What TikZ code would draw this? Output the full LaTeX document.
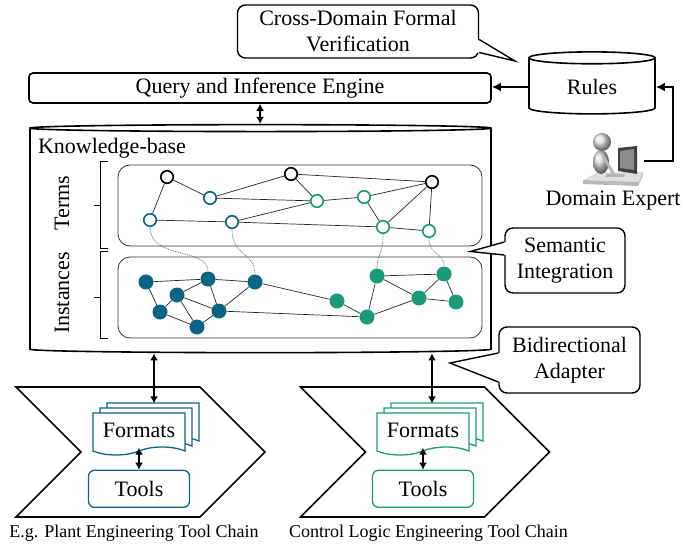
\documentclass[tikz,border=0pt]{standalone}
\usepackage{fontspec}
\setmainfont{Liberation Serif}
\usetikzlibrary{arrows.meta,positioning,shapes.geometric,shapes.symbols,shadows,calc}

\definecolor{plantblue}{HTML}{0B6482}
\definecolor{ctrlgreen}{HTML}{1A9B77}

\tikzset{
  engine/.style={draw, line width=1.6pt, rounded corners=4pt, inner sep=2pt, align=center},
  bubble/.style={draw, line width=1.4pt, rounded corners=8pt, inner sep=2pt, align=center, fill=white},
  store/.style={draw, line width=1.6pt, cylinder, shape border rotate=90, inner sep=2pt, align=center},
  kblayer/.style={draw=black!80, line width=0.8pt, rounded corners=12pt, minimum width=364pt, minimum height=81pt},
  toolchain/.style={draw, line width=1.6pt, signal, signal from=west, signal to=east, minimum width=249pt, minimum height=130pt},
  fmt/.style={tape, tape bend top=none, tape bend height=8pt, draw=#1, fill=white, line width=1.3pt, minimum width=92pt, minimum height=42pt, inner sep=2pt,
    double copy shadow={shadow xshift=7pt, shadow yshift=5pt, draw=#1, fill=white, line width=1.3pt}},
  tool/.style={draw=#1, line width=1.3pt, rounded corners=6pt, minimum width=101pt, minimum height=37pt, inner sep=2pt},
  term/.style={circle, draw=#1, fill=white, line width=1.6pt, minimum size=12.5pt, inner sep=0pt},
  inst/.style={circle, fill=#1, minimum size=15pt, inner sep=0pt},
  relation/.style={line width=0.7pt, black!85},
  instof/.style={line width=0.8pt, black!60, densely dotted},
  arrow/.style={-{Latex[length=9pt,width=9pt]}, line width=2.2pt},
  biarrow/.style={{Latex[length=7pt,width=8pt]}-{Latex[length=7pt,width=8pt]}, line width=2pt},
  bracket/.style={line width=1.4pt},
  chainlabel/.style={font=\fontsize{18}{21}\selectfont}
}

\begin{document}
\begin{tikzpicture}[x=1pt, y=-1pt, font=\fontsize{22}{26}\selectfont]
  \useasboundingbox (0,0) rectangle (684,545);

  % engine, rules and the expert feeding them
  \node[engine, minimum width=462pt, minimum height=30pt] (query) at (260,88) {Query and Inference Engine};
  \node[store, minimum width=126pt, minimum height=62pt, aspect=0.22] (rules) at (592,87) {Rules};
  \node[minimum width=62pt, minimum height=52pt] (expertpic) at (613,161) {};
  \node[below=0pt of expertpic] (expert) {Domain Expert};
  \begin{scope}[shift={(expertpic.center)}]
    % desk, keyboard, monitor
    \fill[gray!25] (-30,19) -- (-15,11) -- (30,11) -- (25,21) -- cycle;
    \fill[gray!55] (-30,19) -- (25,21) -- (25,25) -- (-30,23) -- cycle;
    \fill[gray!40] (25,21) -- (30,11) -- (30,15) -- (25,25) -- cycle;
    \fill[gray!60] (-6,13) -- (12,13) -- (11,16) -- (-8,16) -- cycle;
    \fill[black!75] (5,-13) -- (24,-15) -- (24,13) -- (5,10) -- cycle;
    \fill[black!45] (7,-10) -- (21,-12) -- (21,9) -- (7,7) -- cycle;
    % person
    \shade[ball color=gray!30] (-12,1) ellipse (8pt and 12pt);
    \shade[ball color=gray!20] (-11,-19) circle (9pt);
    \draw[gray!55, line width=3pt, line cap=round] (-9,-3) -- (0,12);
  \end{scope}

  % knowledge base
  \node[store, text width=457pt, minimum height=228pt, aspect=0.015] (kb) at (260.5,241) {};
  \node (kbtitle) at (112,148) {Knowledge-base};
  \node[kblayer] (termsbox) at (300,205.5) {};
  \node[kblayer] (instbox) at (300,297.5) {};
  \node[rotate=90] (lblterms) at (62,203) {Terms};
  \node[rotate=90] (lblinst) at (62,293) {Instances};
  \draw[bracket] ([shift={(-10pt,3pt)}]termsbox.north west) -- ++(-7,0) |- ([shift={(-10pt,-2pt)}]termsbox.south west);
  \draw[bracket] ([xshift=-17pt]termsbox.west) -- ++(-7,0);
  \draw[bracket] ([shift={(-10pt,5pt)}]instbox.north west) -- ++(-7,0) |- ([shift={(-10pt,0pt)}]instbox.south west);
  \draw[bracket] ([xshift=-17pt]instbox.west) -- ++(-7,0);

  % terms
  \node[term=black] (c1) at (167,177) {};
  \node[term=black] (c2) at (291,174) {};
  \node[term=black] (c3) at (432,182) {};
  \node[term=plantblue] (pa1) at (210,198) {};
  \node[term=plantblue] (pa2) at (150,220) {};
  \node[term=plantblue] (pa3) at (232,222) {};
  \node[term=ctrlgreen] (cl1) at (317,201) {};
  \node[term=ctrlgreen] (cl2) at (364,197) {};
  \node[term=ctrlgreen] (cl3) at (383,227) {};
  \node[term=ctrlgreen] (cl4) at (429,231) {};
  \draw[relation] (c1) -- (pa2) (c1) -- (pa1) (pa1) -- (c2) (pa1) -- (cl1) (c2) -- (cl1) (c2) -- (c3)
    (cl1) -- (cl2) (cl2) -- (c3) (cl2) -- (cl3) (c3) -- (cl3) (c3) -- (cl4) (cl3) -- (cl4)
    (pa2) -- (pa3) (pa3) -- (cl1) (pa3) -- (cl3);

  % instances
  \node[inst=plantblue] (ip1) at (146,282) {};
  \node[inst=plantblue] (ip2) at (208,279) {};
  \node[inst=plantblue] (ip3) at (255,282) {};
  \node[inst=plantblue] (ip4) at (177,295) {};
  \node[inst=plantblue] (ip5) at (160,312) {};
  \node[inst=plantblue] (ip6) at (219,311) {};
  \node[inst=plantblue] (ip7) at (197,327) {};
  \node[inst=ctrlgreen] (ic1) at (337,301) {};
  \node[inst=ctrlgreen] (ic2) at (367,317) {};
  \node[inst=ctrlgreen] (ic3) at (377,276) {};
  \node[inst=ctrlgreen] (ic4) at (444,274) {};
  \node[inst=ctrlgreen] (ic5) at (419,298) {};
  \node[inst=ctrlgreen] (ic6) at (456,302) {};
  \draw[relation] (ip1) -- (ip2) (ip2) -- (ip3) (ip1) -- (ip5) (ip5) -- (ip4) (ip4) -- (ip2) (ip4) -- (ip6)
    (ip4) -- (ip7) (ip2) -- (ip6) (ip5) -- (ip7) (ip7) -- (ip6) (ip6) -- (ip3) (ip3) -- (ic1) (ip6) -- (ic2)
    (ic1) -- (ic2) (ic2) -- (ic3) (ic2) -- (ic5) (ic3) -- (ic4) (ic3) -- (ic5) (ic5) -- (ic4) (ic5) -- (ic6) (ic4) -- (ic6);

  % term -> instance
  \draw[instof] (pa2) .. controls +(0,40) and +(0,-32) .. (ip2);
  \draw[instof] (pa3) .. controls +(0,35) and +(0,-30) .. (ip3);
  \draw[instof] (cl3) .. controls +(0,28) and +(0,-22) .. (ic3);
  \draw[instof] (cl4) .. controls +(0,25) and +(0,-22) .. (ic4);

  % tool chains
  \node[toolchain] (chainA) at (140.5,452) {};
  \node[toolchain] (chainB) at (425,452) {};
  \node[fmt=plantblue] (fmtA) at (139,430) {Formats};
  \node[fmt=ctrlgreen] (fmtB) at (423,430) {Formats};
  \node[tool=plantblue, below=22pt of fmtA] (toolA) {Tools};
  \node[tool=ctrlgreen, below=22pt of fmtB] (toolB) {Tools};
  \node[chainlabel] (labelA) at (134,533) {E.g. Plant Engineering Tool Chain};
  \node[chainlabel] (labelB) at (428.5,533) {Control Logic Engineering Tool Chain};

  % arrows
  \draw[arrow] (rules.west) -- (rules.west -| query.east);
  \draw[arrow] (expertpic.east) -- ++(29,0) |- (rules.east);
  \draw[biarrow] (query) -- (kb);
  \coordinate (fmtAtop) at ([xshift=15pt,yshift=9pt]fmtA.north);
  \coordinate (fmtBtop) at ([xshift=9pt,yshift=9pt]fmtB.north);
  \draw[biarrow] (fmtAtop) -- (fmtAtop |- kb.south);
  \draw[biarrow] (fmtBtop) -- (fmtBtop |- kb.south);
  \draw[biarrow] (fmtA.south) -- (toolA.north);
  \draw[biarrow] (fmtB.south) -- (toolB.north);

  % callouts
  \node[bubble, minimum width=241pt, minimum height=53pt] (verif) at (358,31.5) {Cross-Domain Formal\\Verification};
  \coordinate (verifTip) at (515,61);
  \fill[white] ([shift={(-2pt,-8pt)}]verif.east) -- (verifTip) -- ([shift={(-2pt,-21pt)}]verif.east) -- cycle;
  \draw[line width=1.4pt] ([yshift=-8pt]verif.east) -- (verifTip) -- ([yshift=-21pt]verif.east);

  \node[bubble, minimum width=120pt, minimum height=65pt] (semint) at (565,260.5) {Semantic\\Integration};
  \coordinate (semintTip) at ($(termsbox.south east)!.5!(instbox.north east)+(-12,0)$);
  \fill[white] ([shift={(2pt,18.5pt)}]semint.west) -- (semintTip) -- ([shift={(2pt,5.5pt)}]semint.west) -- cycle;
  \draw[line width=1.4pt] ([yshift=18.5pt]semint.west) -- (semintTip) -- ([yshift=5.5pt]semint.west);

  \node[bubble, minimum width=141pt, minimum height=66pt] (adapter) at (569.5,360) {Bidirectional\\Adapter};
  \coordinate (adapterTip) at (450,363);
  \fill[white] ([shift={(2pt,7pt)}]adapter.west) -- (adapterTip) -- ([shift={(2pt,-22pt)}]adapter.west) -- cycle;
  \draw[line width=1.4pt] ([yshift=7pt]adapter.west) -- (adapterTip) -- ([yshift=-22pt]adapter.west);
\end{tikzpicture}
\end{document}
